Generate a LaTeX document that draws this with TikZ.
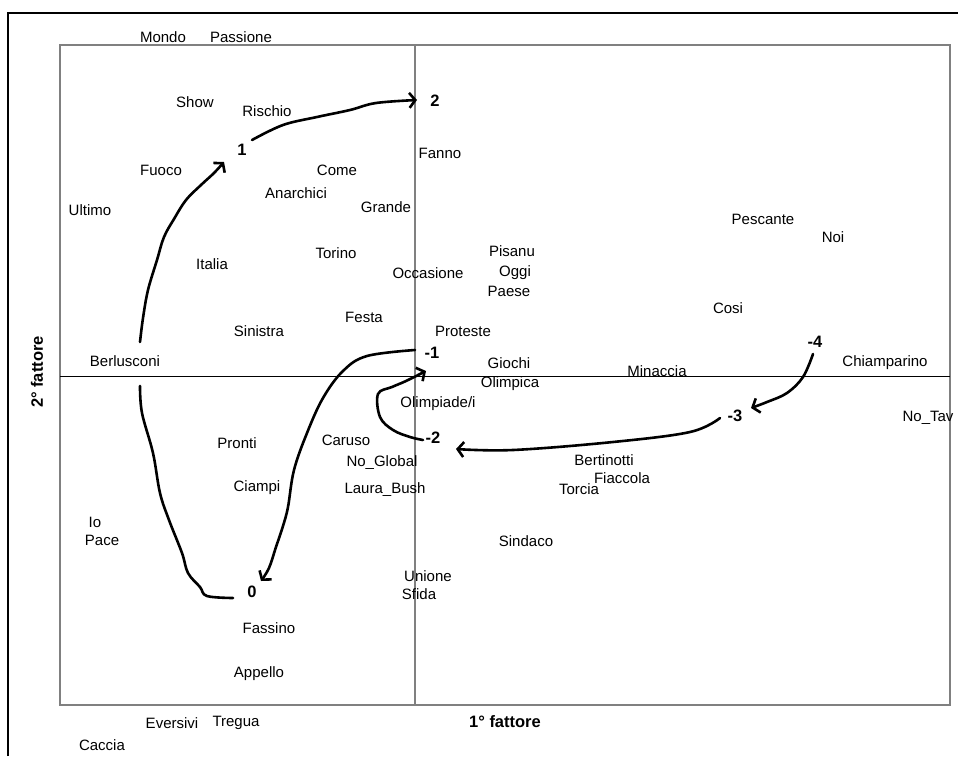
\documentclass[tikz,border=0pt]{standalone}
\usepackage{fontspec}
\setmainfont{Liberation Sans}
\usetikzlibrary{arrows.meta}
\begin{document}
\begin{tikzpicture}[x=1pt,y=-1pt,
  lbl/.style={font=\fontsize{15}{15}\selectfont, inner sep=0pt},
  num/.style={font=\fontsize{16.5}{16.5}\selectfont\bfseries, inner sep=0pt},
  axlbl/.style={font=\fontsize{16.5}{17}\selectfont\bfseries, inner sep=0pt},
  path/.style={line width=2.6pt, line cap=round, line join=round},
  arr/.style={path, -{Straight Barb[length=6pt,width=15pt]}},
  frame/.style={draw=black!50, line width=2pt},
  vaxis/.style={draw=black!50, line width=1.4pt},
  haxis/.style={draw=black, line width=1pt}]
\useasboundingbox (0,0) rectangle (958,756);
% outer frame (partly cut)
\draw[line width=1.5pt] (8,756) -- (8,13) -- (958,13);
% plot frame and axes
\draw[frame] (60,45) rectangle (950,705);
\draw[vaxis] (415,45) -- (415,705);
\draw[haxis] (60,376) -- (950,376);
% axis labels
\node[axlbl] (xl) at (505,722) {1° fattore};
\node[axlbl, rotate=90] (yl) at (37,372) {2° fattore};
% word labels
\node[lbl] (w1) at (163,37) {Mondo};
\node[lbl] (w2) at (241,37) {Passione};
\node[lbl] (w3) at (195,102) {Show};
\node[lbl] (w4) at (267,111) {Rischio};
\node[lbl] (w5) at (440,153) {Fanno};
\node[lbl] (w6) at (161,170) {Fuoco};
\node[lbl] (w7) at (337,170) {Come};
\node[lbl] (w8) at (296,193) {Anarchici};
\node[lbl] (w9) at (386,207) {Grande};
\node[lbl] (w10) at (90,210) {Ultimo};
\node[lbl] (w11) at (763,219) {Pescante};
\node[lbl] (w12) at (833,237) {Noi};
\node[lbl] (w13) at (512,251) {Pisanu};
\node[lbl] (w14) at (336,253) {Torino};
\node[lbl] (w15) at (212,264) {Italia};
\node[lbl] (w16) at (428,273) {Occasione};
\node[lbl] (w17) at (515,273) {Oggi};
\node[lbl] (w18) at (509,291) {Paese};
\node[lbl] (w19) at (728,308) {Cosi};
\node[lbl] (w20) at (364,317) {Festa};
\node[lbl] (w21) at (259,331) {Sinistra};
\node[lbl] (w22) at (463,331) {Proteste};
\node[lbl] (w23) at (125,361) {Berlusconi};
\node[lbl] (w24) at (509,363) {Giochi};
\node[lbl] (w25) at (657,371) {Minaccia};
\node[lbl] (w26) at (885,363) {Chiamparino};
\node[lbl] (w27) at (510,384) {Olimpica};
\node[lbl] (w28) at (438,404) {Olimpiade/i};
\node[lbl] (w29) at (928,418) {No\_Tav};
\node[lbl] (w30) at (237,443) {Pronti};
\node[lbl] (w31) at (346,440) {Caruso};
\node[lbl] (w32) at (382,463) {No\_Global};
\node[lbl] (w33) at (604,460) {Bertinotti};
\node[lbl] (w34) at (622,478) {Fiaccola};
\node[lbl] (w35) at (257,488) {Ciampi};
\node[lbl] (w36) at (385,490) {Laura\_Bush};
\node[lbl] (w37) at (579,489) {Torcia};
\node[lbl] (w38) at (95,522) {Io};
\node[lbl] (w39) at (102,540) {Pace};
\node[lbl] (w40) at (526,541) {Sindaco};
\node[lbl] (w41) at (428,576) {Unione};
\node[lbl] (w42) at (419,594) {Sfida};
\node[lbl] (w43) at (269,628) {Fassino};
\node[lbl] (w44) at (259,674) {Appello};
\node[lbl] (w45) at (172,723) {Eversivi};
\node[lbl] (w46) at (236,723) {Tregua};
\node[lbl] (w47) at (102,745) {Caccia};
% step numbers
\node[num] (n1) at (242,150) {1};
\node[num] (n2) at (435,101) {2};
\node[num] (n0) at (252,592) {0};
\node[num] (nm1) at (432,353) {-1};
\node[num] (nm2) at (433,438) {-2};
\node[num] (nm3) at (735,416) {-3};
\node[num] (nm4) at (815,342) {-4};
% curve end points
\coordinate (bA) at (140,342);
\coordinate (bB) at (140,386);
\coordinate (t1) at (224,162);
\coordinate (s1) at (252,140);
\coordinate (t2) at (417,100);
\coordinate (e0) at (233,598);
\coordinate (sm1) at (415,350);
\coordinate (t0) at (261,581);
\coordinate (sm2) at (423,440);
\coordinate (tm1) at (426,371);
\coordinate (sm3) at (720,418);
\coordinate (tm2) at (456,449);
\coordinate (sm4) at (813,354);
\coordinate (tm3) at (751,408);
% trajectories
\draw[arr] plot[smooth, tension=0.6] coordinates {(bA) (143,318) (148,290) (157,260) (164,237) (174,219) (186,200) (201,185) (214,173) (t1)};
\draw[arr] plot[smooth, tension=0.6] coordinates {(s1) (283,125) (317,117) (350,110) (376,103) (t2)};
\draw[path] plot[smooth, tension=0.6] coordinates {(bB) (142,413) (153,453) (160,493) (169,520) (182,553) (188,573) (200,587) (207,596) (e0)};
\draw[arr] plot[smooth, tension=0.6] coordinates {(sm1) (367,356) (343,371) (323,398) (307,433) (294,470) (288,507) (283,526) (276,547) (269,568) (t0)};
\draw[arr] plot[smooth, tension=0.6] coordinates {(sm2) (410,437) (393,430) (380,417) (378,394) (392,387) (406,381) (tm1)};
\draw[arr] plot[smooth, tension=0.6] coordinates {(sm3) (690,432) (613,442) (513,450) (tm2)};
\draw[arr] plot[smooth, tension=0.6] coordinates {(sm4) (803,377) (787,393) (767,402) (tm3)};
\end{tikzpicture}
\end{document}
